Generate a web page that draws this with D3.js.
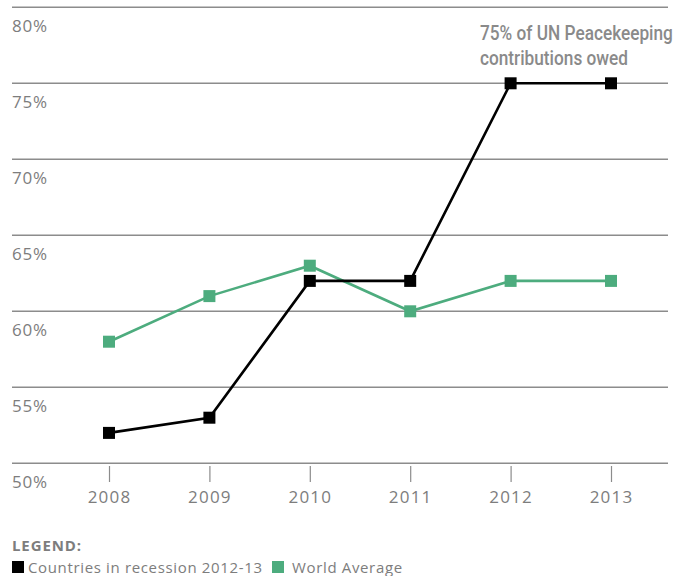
<!DOCTYPE html>
<html>
<head>
<meta charset="utf-8">
<script src="https://cdn.jsdelivr.net/npm/d3@7/dist/d3.min.js"></script>
<style>
  html, body { margin: 0; padding: 0; background: #fff; }
  svg { display: block; }
</style>
</head>
<body>
<svg id="chart" width="681" height="576"></svg>
<script>
// Share of UN peacekeeping contributions owed, by year
const years = ["2008", "2009", "2010", "2011", "2012", "2013"];
const recessionValues = [52, 53, 62, 62, 75, 75];
const worldAverageValues = [58, 61, 63, 60, 62, 62];
const yTicks = [50, 55, 60, 65, 70, 75, 80];
const seriesNames = ["Countries in recession 2012-13", "World Average"];
const seriesColors = ["#000000", "#4dac7e"];
const annotationLines = ["75% of UN Peacekeeping", "contributions owed"];

const svg = d3.select("#chart");
const font = "'Open Sans', Lato, sans-serif";
const gray = "#7d7d7d";

const x = d3.scalePoint().domain(years).range([109, 611]);
const y = d3.scaleLinear().domain([50, 80]).range([463.3, 7.3]);

const left = 12, right = 668;

// Horizontal gridlines with labels sitting just under each line
const grid = svg.append("g");
grid.selectAll("line").data(yTicks).join("line")
  .attr("x1", left).attr("x2", right)
  .attr("y1", d => y(d)).attr("y2", d => y(d))
  .attr("stroke", "#8c8c8c").attr("stroke-width", 1.5);
grid.selectAll("text").data(yTicks).join("text")
  .attr("x", 12).attr("y", d => y(d) + 25)
  .attr("font-family", font).attr("font-size", 17).attr("font-weight", 400)
  .attr("letter-spacing", 0.8)
  .attr("fill", gray)
  .text(d => d + "%");

// x axis ticks and year labels
const xAxis = d3.axisBottom(x).tickSize(16).tickPadding(9);
const gx = svg.append("g").attr("transform", `translate(0,466)`).call(xAxis);
gx.select(".domain").remove();
gx.selectAll(".tick line").attr("stroke", "#8c8c8c").attr("stroke-width", 1.2);
gx.selectAll(".tick text")
  .attr("font-family", font).attr("font-size", 17).attr("font-weight", 400)
  .attr("letter-spacing", 1.2)
  .attr("fill", gray);

// Series lines and square markers
const series = [recessionValues, worldAverageValues];
const line = d3.line().x((d, i) => x(years[i])).y(d => y(d));
const drawOrder = [1, 0];
drawOrder.forEach(k => {
  const g = svg.append("g");
  g.append("path").datum(series[k])
    .attr("d", line).attr("fill", "none")
    .attr("stroke", seriesColors[k]).attr("stroke-width", 2.6);
  g.selectAll("rect").data(series[k]).join("rect")
    .attr("x", (d, i) => x(years[i]) - 6)
    .attr("y", d => y(d) - 6)
    .attr("width", 12).attr("height", 12)
    .attr("fill", seriesColors[k]);
});

// Annotation above the 2012–13 peak, horizontally condensed to fit its block
const annBlockWidth = 193;
const annGroup = svg.append("g");
const annTexts = annotationLines.map((t, i) =>
  annGroup.append("text")
    .attr("x", 0).attr("y", 40 + i * 25)
    .attr("font-family", "Roboto, 'Open Sans', sans-serif")
    .attr("font-size", 21).attr("font-weight", 500)
    .attr("fill", "#8a8a8a")
    .text(t)
);
const natural = annTexts[0].node().getComputedTextLength();
const sx = annBlockWidth / natural;
annGroup.attr("transform", `translate(480,0) scale(${sx},1)`);

// Legend
svg.append("text")
  .attr("x", 12).attr("y", 551)
  .attr("font-family", font).attr("font-size", 15).attr("font-weight", 700)
  .attr("letter-spacing", 0.9)
  .attr("fill", gray)
  .text("LEGEND:");

const legendX = [12, 272];
seriesNames.forEach((name, i) => {
  svg.append("rect")
    .attr("x", legendX[i]).attr("y", 561)
    .attr("width", 12).attr("height", 12)
    .attr("fill", seriesColors[i]);
  svg.append("text")
    .attr("x", legendX[i] + (i === 0 ? 16 : 20)).attr("y", 572.5)
    .attr("font-family", font).attr("font-size", 15).attr("font-weight", 400)
    .attr("letter-spacing", 0.65)
    .attr("fill", gray)
    .text(name);
});
</script>
</body>
</html>
